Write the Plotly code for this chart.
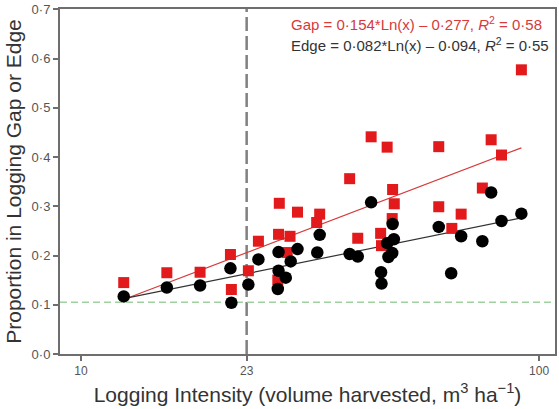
import plotly.graph_objects as go
import numpy as np

# Data
gap_x = [12.4, 15.4, 18.2, 21.2, 21.3, 23.2, 24.4, 27.0, 27.1, 28.6, 26.9, 28.2, 29.7, 33.2, 32.7, 38.6,
         40.2, 43.0, 46.6, 45.1, 45.3, 47.9, 48.3, 47.8, 60.4, 60.4, 64.5, 67.6, 75.2, 78.6, 82.8, 91.5]
gap_y = [0.145, 0.165, 0.166, 0.202, 0.131, 0.169, 0.229, 0.243, 0.306, 0.239, 0.150, 0.206, 0.288, 0.284,
         0.267, 0.356, 0.235, 0.441, 0.420, 0.245, 0.220, 0.334, 0.305, 0.275, 0.421, 0.299, 0.255, 0.284,
         0.337, 0.435, 0.404, 0.577]

edge_x = [12.4, 15.4, 18.2, 21.2, 21.3, 23.2, 24.4, 27.0, 27.0, 26.9, 28.0, 28.7, 29.7, 33.2, 32.8, 38.6,
          40.2, 43.0, 47.9, 48.2, 46.6, 47.8, 46.9, 45.2, 45.3, 60.4, 67.6, 64.3, 75.2, 78.6, 82.8, 91.5]
edge_y = [0.117, 0.135, 0.139, 0.174, 0.104, 0.141, 0.192, 0.207, 0.169, 0.132, 0.155, 0.188, 0.213, 0.242,
          0.206, 0.203, 0.198, 0.308, 0.264, 0.233, 0.225, 0.205, 0.197, 0.166, 0.143, 0.258, 0.239, 0.164,
          0.229, 0.328, 0.270, 0.285]

gap_fit = (0.154, -0.277)   # slope, intercept on ln(x)
edge_fit = (0.082, -0.094)

threshold_x = 23
baseline_y = 0.105

y_ticks = [0.0, 0.1, 0.2, 0.3, 0.4, 0.5, 0.6, 0.7]
y_ticklabels = ["0·0", "0·1", "0·2", "0·3", "0·4", "0·5", "0·6", "0·7"]
x_ticks = [10, 23, 100]
x_ticklabels = ["10", "23", "100"]

FONT = "Liberation Sans, Arial, sans-serif"

fig = go.Figure()

xs = np.linspace(min(gap_x), max(gap_x), 100)
fig.add_trace(go.Scatter(x=xs, y=gap_fit[0] * np.log(xs) + gap_fit[1], mode="lines",
                         line=dict(color="#d63a3a", width=1.2), hoverinfo="skip", showlegend=False))
xs2 = np.linspace(min(edge_x), max(edge_x), 100)
fig.add_trace(go.Scatter(x=xs2, y=edge_fit[0] * np.log(xs2) + edge_fit[1], mode="lines",
                         line=dict(color="#333333", width=1.2), hoverinfo="skip", showlegend=False))

fig.add_trace(go.Scatter(x=gap_x, y=gap_y, mode="markers", name="Gap",
                         marker=dict(symbol="square", size=11, color="#e31a1c", line=dict(width=0)),
                         showlegend=False))
fig.add_trace(go.Scatter(x=edge_x, y=edge_y, mode="markers", name="Edge",
                         marker=dict(symbol="circle", size=12.5, color="#000000", line=dict(width=0)),
                         showlegend=False))

fig.add_shape(type="line", xref="x", yref="paper", x0=threshold_x, x1=threshold_x, y0=0, y1=1,
              line=dict(color="#808080", width=2.5, dash="14px,5px"), layer="below")
fig.add_shape(type="line", xref="paper", yref="y", x0=0, x1=1, y0=baseline_y, y1=baseline_y,
              line=dict(color="#9fd09f", width=1.5, dash="7px,4px"), layer="below")

fig.add_annotation(xref="paper", yref="paper", x=0.4628, y=0.957, xanchor="left", yanchor="middle",
                   showarrow=False, text="Gap = 0·154*Ln(x) – 0·277, <i>R</i><sup>2</sup> = 0·58",
                   font=dict(family=FONT, size=15, color="#d63a3a"))
fig.add_annotation(xref="paper", yref="paper", x=0.4628, y=0.896, xanchor="left", yanchor="middle",
                   showarrow=False, text="Edge = 0·082*Ln(x) – 0·094, <i>R</i><sup>2</sup> = 0·55",
                   font=dict(family=FONT, size=15, color="#333333"))

fig.update_layout(
    width=559, height=409,
    margin=dict(l=60, r=2, t=7, b=55),
    paper_bgcolor="white", plot_bgcolor="white",
    font=dict(family=FONT),
    xaxis=dict(type="log", range=[0.9543, 2.0348], tickvals=x_ticks, ticktext=x_ticklabels,
               showgrid=False, zeroline=False, showline=True, linecolor="#6e6e6e", linewidth=2,
               mirror=True, ticks="outside", ticklen=5, tickwidth=1.5, tickcolor="#6e6e6e",
               tickfont=dict(size=12, color="#555555"),
               title=dict(text="Logging Intensity (volume harvested, m<sup>3</sup> ha<sup>−1</sup>)",
                          font=dict(size=21, color="#333333"), standoff=10)),
    yaxis=dict(range=[0, 0.7005], tickvals=y_ticks, ticktext=y_ticklabels,
               showgrid=False, zeroline=False, showline=True, linecolor="#6e6e6e", linewidth=2,
               mirror=True, ticks="outside", ticklen=5, tickwidth=1.5, tickcolor="#6e6e6e",
               tickfont=dict(size=13, color="#555555"), ticklabeloverflow="allow",
               title=dict(text="Proportion in Logging Gap or Edge",
                          font=dict(size=21, color="#333333"), standoff=4)),
)

fig.write_html("out.html")
